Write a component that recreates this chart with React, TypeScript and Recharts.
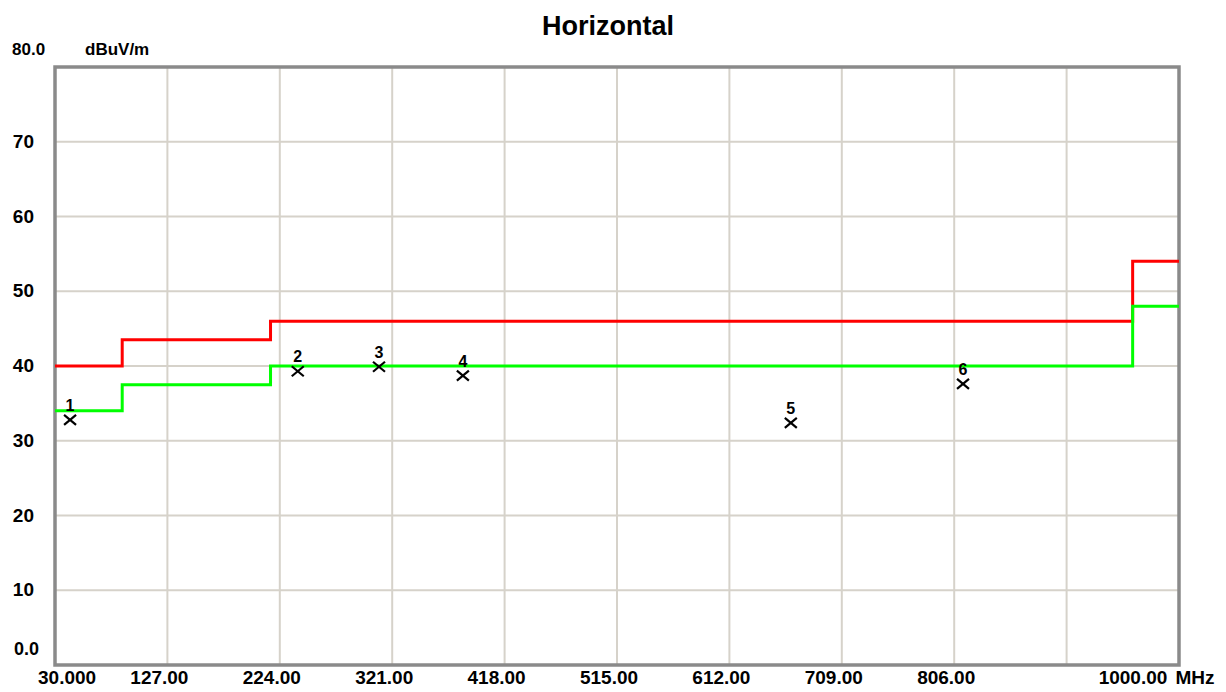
import { ComposedChart, Line, Scatter, XAxis, YAxis, CartesianGrid, ReferenceArea } from 'recharts';

// limit lines (step edges, MHz / dBuV/m)
const limitFreq = [30, 88, 216, 960, 1000];
const limitLevel = [40, 43.5, 46, 54, 54];
const marginLevel = [34, 37.5, 40, 48, 48];

// measured peaks
const peakFreq = [43, 239.5, 309.6, 382, 665, 813.6];
const peakLevel = [32.8, 39.3, 39.9, 38.7, 32.4, 37.6];

const xTicks = [30, 127, 224, 321, 418, 515, 612, 709, 806, 903, 1000];
const yTicks = [0, 10, 20, 30, 40, 50, 60, 70, 80];

const limitData = limitFreq.map((f, i) => ({ freq: f, level: limitLevel[i] }));
const marginData = limitFreq.map((f, i) => ({ freq: f, level: marginLevel[i] }));
const peakData = peakFreq.map((f, i) => ({ freq: f, level: peakLevel[i], no: i + 1 }));

const FONT = '"Liberation Sans", Arial, sans-serif';

function XTick({ x, y, payload }: any) {
  const v = payload.value;
  const ty = y + 11;
  const style = { fontFamily: FONT, fontWeight: 700, fontSize: 19, fill: '#000' };
  if (v === 903) return null;
  if (v === 30) {
    return <text x={x - 17} y={ty} textAnchor="start" style={style}>30.000</text>;
  }
  if (v === 1000) {
    return (
      <g>
        <text x={x - 46} y={ty} textAnchor="middle" style={style}>1000.00</text>
        <text x={x + 16} y={ty} textAnchor="middle" style={style}>MHz</text>
      </g>
    );
  }
  return <text x={x - 8} y={ty} textAnchor="middle" style={style}>{v.toFixed(2)}</text>;
}

function YTick({ y, payload }: any) {
  const v = payload.value;
  const style = { fontFamily: FONT, fontWeight: 700, fill: '#000' };
  if (v === 80) {
    return <text x={12} y={y - 12} textAnchor="start" style={{ ...style, fontSize: 17 }}>80.0</text>;
  }
  if (v === 0) {
    return <text x={39} y={y - 10} textAnchor="end" style={{ ...style, fontSize: 18 }}>0.0</text>;
  }
  return <text x={34} y={y + 6} textAnchor="end" style={{ ...style, fontSize: 19 }}>{v}</text>;
}

function PeakMark({ cx, cy, payload }: any) {
  const s = 6;
  return (
    <g>
      <line x1={cx - s} y1={cy - s + 1} x2={cx + s} y2={cy + s - 1} stroke="#000" strokeWidth={2.2} />
      <line x1={cx - s} y1={cy + s - 1} x2={cx + s} y2={cy - s + 1} stroke="#000" strokeWidth={2.2} />
      <text x={cx} y={cy - 9} textAnchor="middle"
        style={{ fontFamily: FONT, fontWeight: 700, fontSize: 16, fill: '#000' }}>{payload.no}</text>
    </g>
  );
}

export default function App() {
  return (
    <div style={{ position: 'absolute', left: 0, top: 0, width: 1226, height: 692, background: '#fff' }}>
      <div style={{
        position: 'absolute', left: 0, width: 1216, top: 11, textAlign: 'center',
        fontFamily: FONT, fontWeight: 700, fontSize: 27, color: '#000',
      }}>Horizontal</div>
      <div style={{
        position: 'absolute', left: 85, top: 40, fontFamily: FONT, fontWeight: 700,
        fontSize: 17, color: '#000',
      }}>dBuV/m</div>
      <ComposedChart width={1226} height={692} margin={{ top: 67, right: 47, bottom: 0, left: 0 }}>
        <CartesianGrid stroke="#d6d2ca" strokeWidth={2} />
        <XAxis
          dataKey="freq"
          type="number"
          domain={[30, 1000]}
          ticks={xTicks}
          interval={0}
          height={27}
          axisLine={false}
          tickLine={false}
          tick={<XTick />}
          allowDuplicatedCategory={false}
        />
        <YAxis
          type="number"
          domain={[0, 80]}
          ticks={yTicks}
          interval={0}
          width={55}
          axisLine={false}
          tickLine={false}
          tick={<YTick />}
        />
        <ReferenceArea x1={30} x2={1000} y1={0} y2={80} fill="none" stroke="#8a8a8a" strokeWidth={3.5} />
        <Line data={limitData} dataKey="level" type="stepAfter" stroke="#ff0000" strokeWidth={3}
          dot={false} isAnimationActive={false} />
        <Line data={marginData} dataKey="level" type="stepAfter" stroke="#00ff00" strokeWidth={3}
          dot={false} isAnimationActive={false} />
        <Scatter data={peakData} dataKey="level" shape={<PeakMark />} isAnimationActive={false} />
      </ComposedChart>
    </div>
  );
}
